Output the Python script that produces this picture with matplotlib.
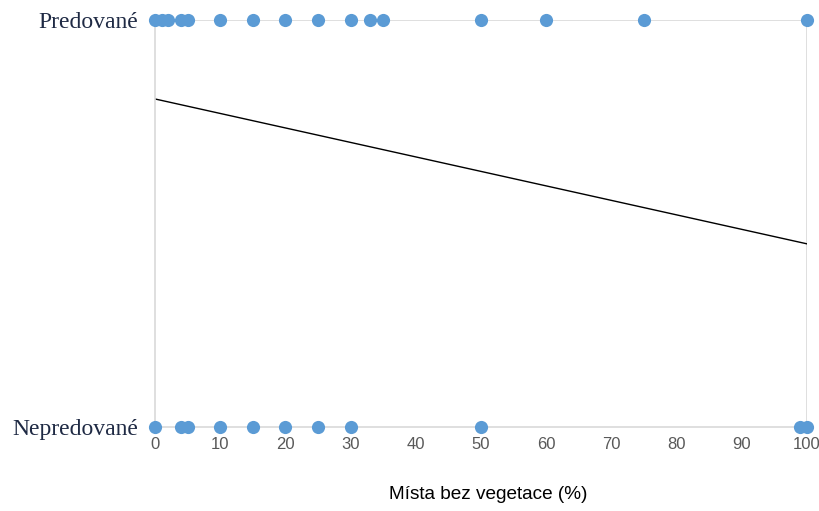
import matplotlib
matplotlib.use("Agg")
import matplotlib.pyplot as plt
import numpy as np

# bare-ground share (%) for sites by outcome
predated_x = [0, 1, 2, 4, 5, 10, 15, 20, 25, 30, 33, 35, 50, 60, 75, 100]
not_predated_x = [0, 4, 5, 10, 15, 20, 25, 30, 50, 99, 100]
# fitted trend, value at x = 0 and x = 100
trend_x = [0, 100]
trend_y = [0.806, 0.45]
y_labels = ["Nepredované", "Predované"]
x_ticks = list(range(0, 101, 10))

W, H = 820, 511
fig = plt.figure(figsize=(W / 100, H / 100), dpi=100)
ax = fig.add_axes([155 / W, (H - 427) / H, (807 - 155) / W, (427 - 20) / H])

grid_c = "#d9d9d9"
ax.axhline(1, color=grid_c, lw=1.2, zorder=1)
for s in ["top", "right"]:
    ax.spines[s].set_visible(False)
ax.axvline(100, color=grid_c, lw=1.2, zorder=1)
ax.spines["left"].set_color(grid_c)
ax.spines["bottom"].set_color(grid_c)
ax.spines["left"].set_linewidth(1.2)
ax.spines["bottom"].set_linewidth(1.2)

dot = "#5b9bd5"
ax.scatter(predated_x, [1] * len(predated_x), s=90, color=dot, zorder=3, clip_on=False, linewidths=0)
ax.scatter(not_predated_x, [0] * len(not_predated_x), s=90, color=dot, zorder=3, clip_on=False, linewidths=0)
ax.plot(trend_x, trend_y, color="black", lw=1, zorder=2)

ax.set_xlim(0, 100)
ax.set_ylim(0, 1)
ax.set_xticks(x_ticks)
ax.set_xticklabels([str(t) for t in x_ticks], fontsize=12, color="#595959", family="Liberation Sans")
ax.set_yticks([0, 1])
ax.set_yticklabels(y_labels, fontsize=17, color="#1f2a44", family="Liberation Serif")
ax.tick_params(axis="both", length=0)
ax.tick_params(axis="x", pad=7)
ax.tick_params(axis="y", pad=12)
ax.set_xlabel("Místa bez vegetace (%)", fontsize=13.7, family="Liberation Sans")
ax.xaxis.set_label_coords((488 - 155) / 652, -59 / 407)

fig.savefig("out.png", dpi=100)
